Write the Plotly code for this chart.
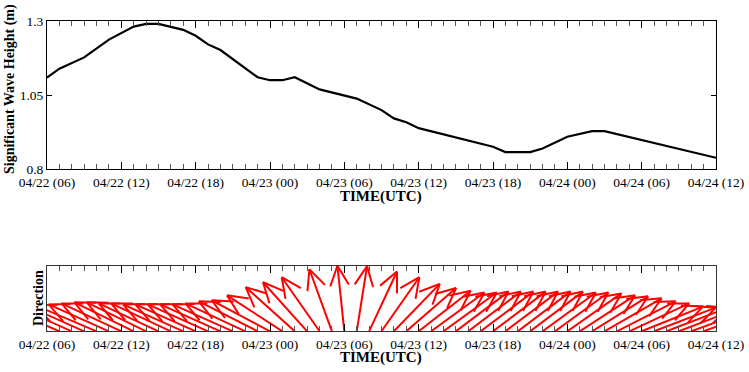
import math
import plotly.graph_objects as go

W, H = 749, 372

# ---------------- data ----------------
# hours since 04/22 06 UTC
wave_hours = [0, 1, 3, 5, 7, 8, 9, 11, 12, 13, 14, 17, 18, 19, 20, 22, 25, 27, 28,
              29, 30, 36, 37, 39, 40, 42, 44, 45, 54]
wave_height = [1.110, 1.140, 1.178, 1.238, 1.282, 1.291, 1.291, 1.271, 1.251, 1.222,
               1.203, 1.111, 1.101, 1.101, 1.111, 1.070, 1.039, 1.000, 0.972, 0.959,
               0.939, 0.876, 0.858, 0.858, 0.870, 0.910, 0.929, 0.929, 0.839]

dir_hours = list(range(55))
# heading the arrow points to (degrees clockwise from north)
dir_heading = [294, 294, 294, 294, 293, 294, 295, 296, 296, 295,
               295, 294, 294, 294, 294, 294, 295, 297, 298, 303,
               312, 318, 325, 340, 354, 9, 25, 35, 44, 49,
               52, 54, 54, 53, 53, 53, 53, 53, 53, 53,
               54, 54, 55, 57, 58, 60, 63, 65, 68, 69,
               69, 69, 70, 70, 70]

tick_hours = [0, 6, 12, 18, 24, 30, 36, 42, 48, 54]
tick_labels = ["04/22 (06)", "04/22 (12)", "04/22 (18)", "04/23 (00)", "04/23 (06)",
               "04/23 (12)", "04/23 (18)", "04/24 (00)", "04/24 (06)", "04/24 (12)"]
y_ticks = [0.8, 1.05, 1.3]
y_ticklabels = ["0.8", "1.05", "1.3"]

# ---------------- layout geometry (pixels) ----------------
X0, X1 = 47, 716
T1_TOP, T1_BOT = 21.3, 169.3
T2_TOP, T2_BOT = 266.0, 331.3
XMAX = 54

px_per_hour = (X1 - X0) / XMAX
px_per_unit2 = (T2_BOT - T2_TOP) / 1.0
ARROW_PX = 66.0
BARB_PX = 22.0
BARB_ANG = math.radians(25)

ax, ay = [], []
for h, hd in zip(dir_hours, dir_heading):
    th = math.radians(90 - hd)
    tx = h + ARROW_PX * math.cos(th) / px_per_hour
    ty = ARROW_PX * math.sin(th) / px_per_unit2
    ax += [h, tx, None]
    ay += [0, ty, None]
    for s in (-1, 1):
        b = th + math.pi + s * BARB_ANG
        ax += [tx, tx + BARB_PX * math.cos(b) / px_per_hour, None]
        ay += [ty, ty + BARB_PX * math.sin(b) / px_per_unit2, None]

fig = go.Figure()
fig.add_trace(go.Scatter(x=wave_hours, y=wave_height, mode="lines",
                         line=dict(color="black", width=2.2), xaxis="x", yaxis="y",
                         showlegend=False, hoverinfo="skip"))
fig.add_trace(go.Scatter(x=ax, y=ay, mode="lines",
                         line=dict(color="#ff0000", width=2), xaxis="x2", yaxis="y2",
                         showlegend=False, hoverinfo="skip"))

FONT = "Liberation Serif"
tickfont = dict(family=FONT, size=13.5, color="black")


def xaxis_cfg(anchor, linecolor="black"):
    return dict(domain=[X0 / W, X1 / W], range=[0, XMAX], anchor=anchor, automargin=False,
                tickmode="array", tickvals=tick_hours, ticktext=tick_labels,
                ticks="inside", ticklen=7, tickcolor="black", tickwidth=1,
                minor=dict(ticks="inside", ticklen=5, dtick=1, tick0=0,
                           tickcolor="#555", tickwidth=1, showgrid=False),
                showline=True, linecolor=linecolor, linewidth=1, mirror="allticks",
                showgrid=False, zeroline=False, tickfont=tickfont)


fig.update_layout(
    width=W, height=H, margin=dict(l=0, r=0, t=0, b=0, autoexpand=False),
    paper_bgcolor="white", plot_bgcolor="white",
    xaxis=xaxis_cfg("y"),
    yaxis=dict(domain=[1 - T1_BOT / H, 1 - T1_TOP / H], range=[0.8, 1.3], anchor="x",
               automargin=False,
               tickmode="array", tickvals=y_ticks, ticktext=y_ticklabels,
               ticks="inside", ticklen=5, tickcolor="black", mirror="allticks",
               showline=True, linecolor="black", linewidth=1,
               showgrid=False, zeroline=False, tickfont=tickfont),
    xaxis2=xaxis_cfg("y2", linecolor="#333"),
    yaxis2=dict(domain=[1 - T2_BOT / H, 1 - T2_TOP / H], range=[0, 1], anchor="x2",
                automargin=False,
                showticklabels=False, ticks="", showline=True, linecolor="#333",
                linewidth=1, mirror=True, showgrid=False, zeroline=False),
)

bold = dict(family=FONT, size=15, color="black", weight="bold")
ann = [
    dict(text="TIME(UTC)", x=381, y=196, font=bold, textangle=0),
    dict(text="TIME(UTC)", x=381, y=357, font=bold, textangle=0),
    dict(text="Significant Wave Height (m)", x=10, y=89,
         font=dict(family=FONT, size=14, color="black", weight="bold"), textangle=-90),
    dict(text="Direction", x=38, y=298,
         font=dict(family=FONT, size=14, color="black", weight="bold"), textangle=-90),
]
for a in ann:
    fig.add_annotation(xref="paper", yref="paper", showarrow=False,
                       xanchor="center", yanchor="middle", text=a["text"],
                       x=a["x"] / W, y=1 - a["y"] / H,
                       font=a["font"], textangle=a["textangle"])

# remove the browser's default 8px body margin so the figure fills the window exactly
fig.write_html("out.html", config={"displayModeBar": False},
               post_script="document.body.style.margin='0px';document.body.style.overflow='hidden';")
